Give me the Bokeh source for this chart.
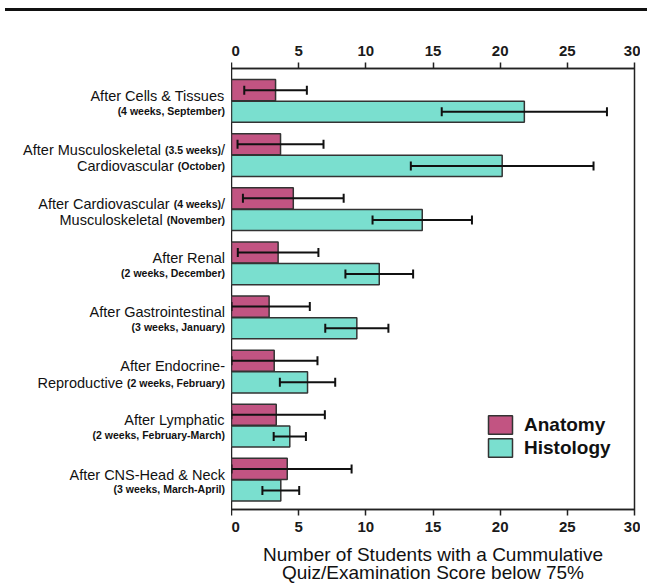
from bokeh.plotting import figure
from bokeh.models import (Range1d, LinearAxis, FixedTicker, Whisker, TeeHead,
                          ColumnDataSource, Div)
from bokeh.layouts import column, row
from bokeh.core.properties import value
from bokeh.embed import file_html
from bokeh.resources import INLINE

# ---------------- data ----------------
anatomy_mean = [3.28, 3.65, 4.6, 3.47, 2.8, 3.18, 3.33, 4.15]
anatomy_err = [2.33, 3.2, 3.75, 3.0, 3.03, 3.22, 3.62, 4.79]
histology_mean = [21.8, 20.15, 14.2, 11.0, 9.33, 5.66, 4.34, 3.67]
histology_err = [6.15, 6.8, 3.7, 2.52, 2.35, 2.06, 1.2, 1.37]
x_ticks = [0, 5, 10, 15, 20, 25, 30]

# category labels: each line is a list of (text, kind) segments
cat_labels = [
    [[("After Cells & Tissues", "big")], [("(4 weeks, September)", "small")]],
    [[("After Musculoskeletal ", "big"), ("(3.5 weeks)", "small"), ("/", "big")],
     [("Cardiovascular ", "big"), ("(October)", "small")]],
    [[("After Cardiovascular ", "big"), ("(4 weeks)", "small"), ("/", "big")],
     [("Musculoskeletal ", "big"), ("(November)", "small")]],
    [[("After Renal", "big")], [("(2 weeks, December)", "small")]],
    [[("After Gastrointestinal", "big")], [("(3 weeks, January)", "small")]],
    [[("After Endocrine-", "big")], [("Reproductive ", "big"), ("(2 weeks, February)", "small")]],
    [[("After Lymphatic", "big")], [("(2 weeks, February-March)", "small")]],
    [[("After CNS-Head & Neck", "big")], [("(3 weeks, March-April)", "small")]],
]
series_names = ["Anatomy", "Histology"]

ANAT = "#c25482"
HIST = "#7adfcf"
FONT = "Liberation Sans"
BIG = 14.5
SMALL = 10.5

REG = {' ': 278, '&': 667, '(': 333, ')': 333, ',': 278, '-': 333, '.': 278, '/': 278,
       'A': 667, 'C': 722, 'D': 722, 'E': 667, 'F': 611, 'G': 778, 'H': 722, 'J': 500,
       'L': 556, 'M': 833, 'N': 722, 'O': 778, 'P': 667, 'R': 722, 'S': 667, 'T': 611,
       'a': 556, 'b': 556, 'c': 500, 'd': 556, 'e': 556, 'f': 278, 'g': 556, 'h': 556,
       'i': 222, 'k': 500, 'l': 222, 'm': 833, 'n': 556, 'o': 556, 'p': 556, 'r': 333,
       's': 500, 't': 278, 'u': 556, 'v': 500, 'w': 722, 'y': 500}
BOLD = {' ': 278, '&': 722, '(': 333, ')': 333, ',': 278, '-': 333, '.': 278, '/': 278,
        'A': 722, 'C': 722, 'D': 722, 'E': 667, 'F': 611, 'G': 778, 'H': 722, 'J': 556,
        'L': 611, 'M': 833, 'N': 722, 'O': 778, 'P': 667, 'R': 722, 'S': 667, 'T': 611,
        'a': 556, 'b': 611, 'c': 556, 'd': 611, 'e': 556, 'f': 333, 'g': 611, 'h': 611,
        'i': 278, 'k': 556, 'l': 278, 'm': 889, 'n': 611, 'o': 611, 'p': 611, 'r': 389,
        's': 556, 't': 333, 'u': 611, 'v': 556, 'w': 778, 'y': 556}


def text_width(s, kind):
    table = REG if kind == "big" else BOLD
    size = BIG if kind == "big" else SMALL
    return sum(table.get(ch, 556) for ch in s) / 1000.0 * size


n = len(anatomy_mean)
groups = list(range(n))
y_anat = [g - 0.2 for g in groups]
y_hist = [g + 0.2 for g in groups]

TOP_B = 57
BOT_B = 73
H = 575
LABEL_W = 231

y_rng = Range1d(7.55, -0.6)

p = figure(width=640 - LABEL_W, height=H, output_backend="svg", toolbar_location=None,
           x_range=Range1d(0, 30), y_range=y_rng,
           x_axis_location="above", y_axis_location=None,
           min_border_left=0, min_border_right=6, min_border_top=TOP_B,
           min_border_bottom=BOT_B)
p.grid.visible = False
p.outline_line_color = "#222222"
p.outline_line_width = 1.5
p.background_fill_color = "white"
p.border_fill_color = "white"

bottom_axis = LinearAxis()
p.add_layout(bottom_axis, "below")

for ax in p.xaxis:
    ax.ticker = FixedTicker(ticks=x_ticks)
    ax.major_tick_in = 0
    ax.major_tick_out = 6
    ax.minor_tick_line_color = None
    ax.axis_line_width = 1.5
    ax.axis_line_color = "#222222"
    ax.major_tick_line_width = 1.5
    ax.major_tick_line_color = "#222222"
    ax.major_label_text_font = FONT
    ax.major_label_text_font_size = "15px"
    ax.major_label_text_font_style = "bold"
    ax.major_label_text_color = "#1a1a1a"

p.xaxis[0].major_label_standoff = 7
bottom_axis.major_label_standoff = 6

bottom_axis.axis_label = "Number of Students with a Cummulative\nQuiz/Examination Score below 75%"
bottom_axis.axis_label_text_font = FONT
bottom_axis.axis_label_text_font_size = "19px"
bottom_axis.axis_label_text_font_style = "normal"
bottom_axis.axis_label_text_color = "#111111"
bottom_axis.axis_label_text_line_height = 0.9
bottom_axis.axis_label_standoff = 9

src_a = ColumnDataSource(dict(y=y_anat, right=anatomy_mean,
                              lower=[max(0, m - e) for m, e in zip(anatomy_mean, anatomy_err)],
                              upper=[m + e for m, e in zip(anatomy_mean, anatomy_err)]))
src_h = ColumnDataSource(dict(y=y_hist, right=histology_mean,
                              lower=[max(0, m - e) for m, e in zip(histology_mean, histology_err)],
                              upper=[m + e for m, e in zip(histology_mean, histology_err)]))

p.hbar(y="y", left=0, right="right", height=0.39, source=src_a, fill_color=ANAT,
       line_color="#333333", line_width=1.5, legend_label=series_names[0])
p.hbar(y="y", left=0, right="right", height=0.39, source=src_h, fill_color=HIST,
       line_color="#333333", line_width=1.5, legend_label=series_names[1])

for src in (src_a, src_h):
    w = Whisker(source=src, base="y", lower="lower", upper="upper", dimension="width",
                line_color="#111111", line_width=2, level="overlay",
                upper_head=TeeHead(size=9, line_color="#111111", line_width=2),
                lower_head=TeeHead(size=9, line_color="#111111", line_width=2))
    p.add_layout(w)

lg = p.legend[0]
lg.location = (254, 50)
lg.orientation = "vertical"
lg.glyph_width = 30
lg.glyph_height = 23
lg.label_height = 23
lg.spacing = 0
lg.padding = 0
lg.margin = 0
lg.label_standoff = 9
lg.label_text_font = FONT
lg.label_text_font_size = "19px"
lg.label_text_font_style = "bold"
lg.label_text_color = "#111111"
lg.border_line_color = None
lg.background_fill_alpha = 0

# ---------------- label panel (shares the y range) ----------------
lf = figure(width=LABEL_W, height=H, output_backend="svg", toolbar_location=None,
            x_range=Range1d(0, LABEL_W), y_range=y_rng,
            x_axis_location=None, y_axis_location=None,
            min_border_left=0, min_border_right=0, min_border_top=TOP_B,
            min_border_bottom=BOT_B)
lf.grid.visible = False
lf.outline_line_color = None

RIGHT_EDGE = LABEL_W - 6.5
tx, ty, tt, tsize, tstyle = [], [], [], [], []
for g, lines in enumerate(cat_labels):
    second_big = any(k == "big" for _, k in lines[1])
    line_y = [g - 0.095, g + (0.205 if second_big else 0.18)]
    for li, segs in enumerate(lines):
        total = sum(text_width(t, k) for t, k in segs)
        x = RIGHT_EDGE - total
        for t, k in segs:
            tx.append(x)
            ty.append(line_y[li])
            tt.append(t)
            tsize.append(f"{BIG if k == 'big' else SMALL}px")
            tstyle.append("normal" if k == "big" else "bold")
            x += text_width(t, k)

lsrc = ColumnDataSource(dict(x=tx, y=ty, text=tt, size=tsize, style=tstyle))
lf.text(x="x", y="y", text="text", source=lsrc, text_align="left",
        text_baseline="alphabetic", text_font=value(FONT), text_font_size="size",
        text_font_style="style", text_color="#111111")

top_line = Div(text="", width=642, height=3, margin=(8, 0, 0, 5),
               styles={"background-color": "#111111"})
layout = column(top_line, row(lf, p, spacing=0), spacing=0)

open("out.html", "w").write(file_html(layout, INLINE))
